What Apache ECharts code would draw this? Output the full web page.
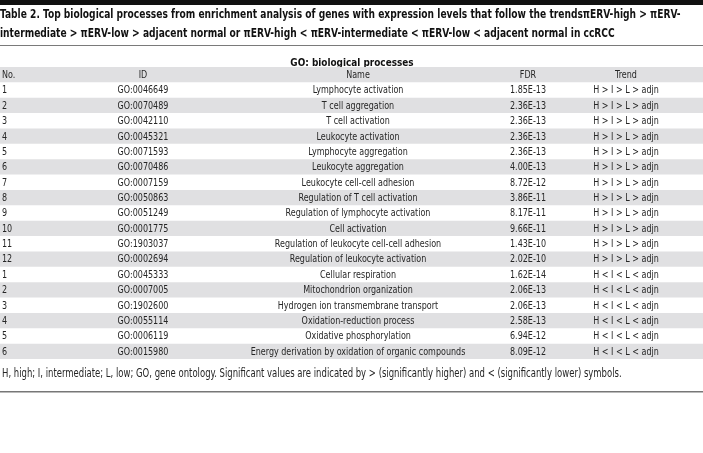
<!DOCTYPE html>
<html><head><meta charset="utf-8">
<script src="https://cdn.jsdelivr.net/npm/echarts@6/dist/echarts.min.js"></script>
<style>html,body{margin:0;padding:0;background:#fff}#c{width:703px;height:453px}</style>
</head><body><div id="c"></div>
<script>
const titleLines = [
  'Table 2. Top biological processes from enrichment analysis of genes with expression levels that follow the trends\u03c0ERV-high > \u03c0ERV-',
  'intermediate > \u03c0ERV-low > adjacent normal or \u03c0ERV-high < \u03c0ERV-intermediate < \u03c0ERV-low < adjacent normal in ccRCC'
];
const sectionLabel = 'GO: biological processes';
const headers = ['No.', 'ID', 'Name', 'FDR', 'Trend'];
const nos = ['1','2','3','4','5','6','7','8','9','10','11','12','1','2','3','4','5','6'];
const ids = ['GO:0046649','GO:0070489','GO:0042110','GO:0045321','GO:0071593','GO:0070486','GO:0007159','GO:0050863','GO:0051249','GO:0001775','GO:1903037','GO:0002694',
             'GO:0045333','GO:0007005','GO:1902600','GO:0055114','GO:0006119','GO:0015980'];
const names = ['Lymphocyte activation','T cell aggregation','T cell activation','Leukocyte activation','Lymphocyte aggregation','Leukocyte aggregation','Leukocyte cell-cell adhesion','Regulation of T cell activation','Regulation of lymphocyte activation','Cell activation','Regulation of leukocyte cell-cell adhesion','Regulation of leukocyte activation',
               'Cellular respiration','Mitochondrion organization','Hydrogen ion transmembrane transport','Oxidation-reduction process','Oxidative phosphorylation','Energy derivation by oxidation of organic compounds'];
const fdrs = ['1.85E-13','2.36E-13','2.36E-13','2.36E-13','2.36E-13','4.00E-13','8.72E-12','3.86E-11','8.17E-11','9.66E-11','1.43E-10','2.02E-10',
              '1.62E-14','2.06E-13','2.06E-13','2.58E-13','6.94E-12','8.09E-12'];
const trends = ['H > I > L > adjn','H > I > L > adjn','H > I > L > adjn','H > I > L > adjn','H > I > L > adjn','H > I > L > adjn','H > I > L > adjn','H > I > L > adjn','H > I > L > adjn','H > I > L > adjn','H > I > L > adjn','H > I > L > adjn',
                'H < I < L < adjn','H < I < L < adjn','H < I < L < adjn','H < I < L < adjn','H < I < L < adjn','H < I < L < adjn'];
const footnote = 'H, high; I, intermediate; L, low; GO, gene ontology. Significant values are indicated by > (significantly higher) and < (significantly lower) symbols.';

const FONT = '"Liberation Sans Narrow","DejaVu Sans Condensed",sans-serif';
const TXT = '#262626';
const GRAY = '#e0e0e2';
const BODY_SX = 0.81;
const rows = [headers].concat(nos.map((n, i) => [n, ids[i], names[i], fdrs[i], trends[i]]));
const rowCats = rows.map((r, i) => 'r' + i);
const colX = [2, 143, 358, 528, 626];
const colAlign = ['left', 'center', 'center', 'center', 'center'];

const chart = echarts.init(document.getElementById('c'), null, {renderer: 'canvas'});
chart.setOption({
  animation: false,
  grid: {left: 0, right: 0, top: 67, bottom: 453 - 359},
  xAxis: {type: 'value', min: 0, max: 703, show: false},
  yAxis: {type: 'category', data: rowCats, inverse: true, show: false},
  series: [{
    type: 'custom',
    data: rows.map((r, i) => [i]),
    encode: {y: 0},
    renderItem: function (params, api) {
      const idx = api.value(0);
      const c0 = api.coord([0, idx]);
      const c1 = api.coord([703, idx]);
      const h = api.size([0, 1])[1];
      const children = [];
      if (idx % 2 === 0) {
        children.push({type: 'rect', shape: {x: c0[0], y: c0[1] - h / 2, width: c1[0] - c0[0], height: h}, style: {fill: GRAY}});
      }
      const r = rows[idx];
      for (let k = 0; k < 5; k++) {
        const p = api.coord([colX[k], idx]);
        children.push({type: 'text', x: p[0], y: p[1] + 0.5, scaleX: BODY_SX, style: {text: r[k], fill: TXT, font: '11px ' + FONT, align: colAlign[k], verticalAlign: 'middle'}});
      }
      return {type: 'group', children: children};
    }
  }],
  graphic: [
    {type: 'rect', left: 0, top: 0, shape: {width: 703, height: 5}, style: {fill: '#111'}},
    {type: 'text', x: 0, y: 14.5, scaleX: 0.81, style: {text: titleLines[0], fill: '#111', font: 'bold 12.5px ' + FONT, verticalAlign: 'middle'}},
    {type: 'text', x: 0, y: 33.5, scaleX: 0.81, style: {text: titleLines[1], fill: '#111', font: 'bold 12.5px ' + FONT, verticalAlign: 'middle'}},
    {type: 'rect', left: 0, top: 45, shape: {width: 703, height: 1}, style: {fill: '#7a7a7a'}},
    {type: 'text', x: 352, y: 63, scaleX: 0.9, style: {text: sectionLabel, fill: '#111', font: 'bold 11px ' + FONT, align: 'center', verticalAlign: 'middle'}},
    {type: 'text', x: 2, y: 374, scaleX: 0.82, style: {text: footnote, fill: TXT, font: '11.5px ' + FONT, align: 'left', verticalAlign: 'middle'}},
    {type: 'rect', left: 0, top: 391, shape: {width: 703, height: 1.5}, style: {fill: '#777'}}
  ]
});
</script></body></html>
